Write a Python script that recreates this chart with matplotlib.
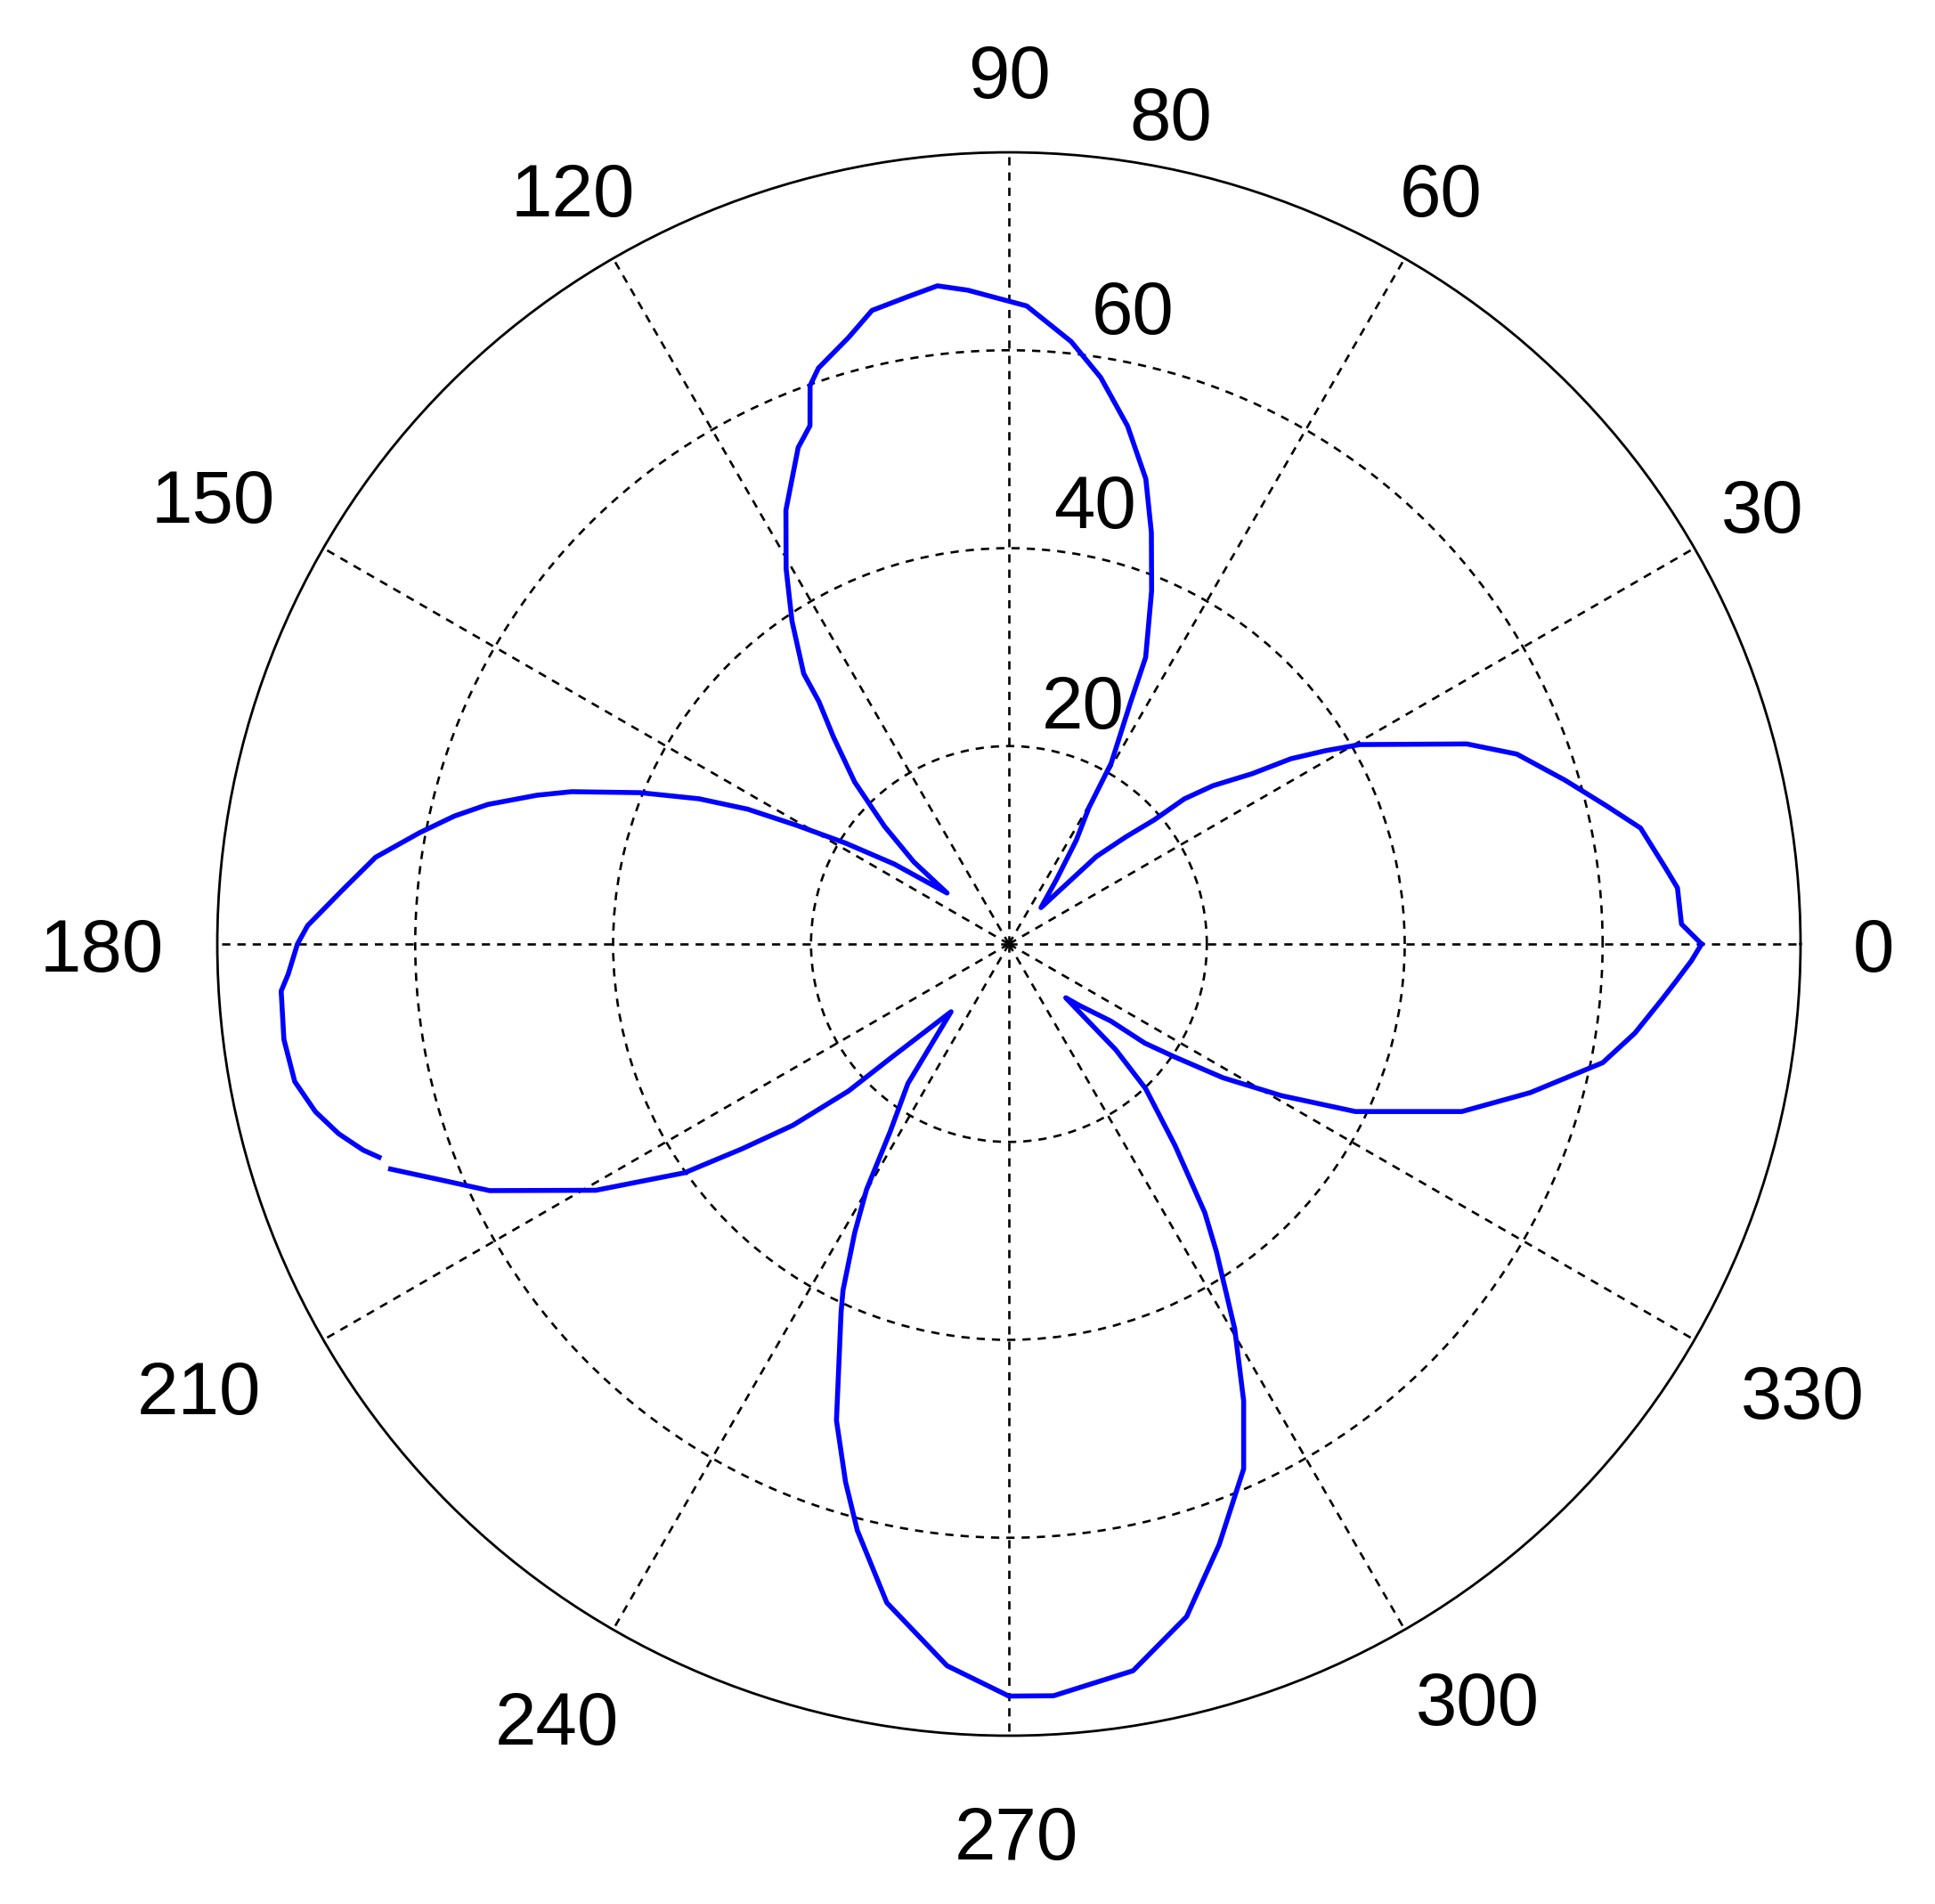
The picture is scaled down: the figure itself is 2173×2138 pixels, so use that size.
import numpy as np
import matplotlib
matplotlib.use("Agg")
import matplotlib.pyplot as plt

# pattern: angle in degrees, radius
theta_deg = [
    0.0, 1.7, 4.8, 6.6, 10.4, 13.0, 16.4, 20.5, 23.6, 29.6,
    31.4, 33.3, 35.0, 37.8, 39.6, 40.5, 42.5, 45.0, 48.6, 53.6,
    57.0, 59.6, 60.5, 63.3, 64.5, 68.0, 70.9, 73.6, 77.1, 80.8,
    84.1, 88.4, 93.6, 96.2, 98.9, 102.2, 104.8, 108.3, 109.6, 111.0,
    113.0, 117.2, 120.7, 123.9, 127.2, 128.1, 130.3, 133.6, 136.6, 139.2,
    140.5, 145.1, 148.3, 150.8, 152.7, 154.9, 157.7, 160.8, 162.5, 165.0,
    167.0, 169.3, 172.2, 175.4, 178.5, 180.0, 182.4, 183.7, 187.5, 190.9,
    193.6, 195.8, 197.7, 198.7, 199.3, 200.0, 202.4, 205.4, 210.8, 215.2,
    217.5, 220.0, 222.5, 224.0, 229.5, 234.1, 237.7, 239.9, 241.9, 244.4,
    245.5, 250.1, 253.1, 255.5, 259.5, 265.1, 270.0, 273.4, 279.7, 284.8,
    289.3, 294.1, 297.2, 300.4, 304.0, 306.1, 309.5, 313.4, 315.3, 315.8,
    316.6, 319.0, 322.9, 323.9, 325.7, 328.0, 330.9, 334.2, 339.7, 344.1,
    348.7, 351.9, 355.1, 356.9, 358.6, 360.0,
]
radius = [
    70.0, 68.0, 67.8, 66.8, 64.9, 62.0, 58.6, 54.8, 50.5, 40.8,
    37.5, 34.1, 30.0, 26.1, 23.0, 19.3, 16.0, 12.5, 4.9, 8.1,
    12.5, 16.0, 21.0, 27.4, 32.1, 38.5, 44.0, 49.0, 53.7, 58.0,
    61.2, 64.5, 66.2, 66.9, 66.2, 65.5, 63.4, 61.3, 59.9, 56.1,
    54.5, 49.3, 44.1, 39.3, 34.3, 31.1, 27.4, 22.6, 17.3, 12.7,
    8.1, 14.1, 19.4, 24.6, 29.7, 34.6, 40.3, 46.8, 50.0, 54.5,
    57.5, 60.6, 64.6, 67.6, 70.9, 71.9, 72.9, 73.7, 73.9, 73.5,
    72.1, 70.4, 68.5, 67.2, np.nan, 66.5, 62.4, 58.1, 48.6, 40.1,
    34.0, 28.5, 22.0, 16.5, 9.0, 17.4, 22.5, 28.7, 33.1, 38.8,
    40.9, 51.2, 56.8, 61.2, 67.7, 73.2, 76.0, 76.1, 74.5, 70.3,
    64.3, 58.1, 51.9, 45.1, 37.5, 33.6, 26.4, 20.1, 15.2, 11.0,
    7.9, 9.5, 12.9, 17.0, 20.2, 25.5, 31.5, 38.9, 48.8, 54.8,
    61.2, 63.9, 66.2, 67.6, 69.0, 70.0,
]

r_max = 80
ring_values = [20, 40, 60]
rlabel_values = [20, 40, 60, 80]
rlabel_angles = [73, 79, 79, 79]
spoke_angles = list(range(0, 360, 30))
spoke_labels = [str(a) for a in spoke_angles]
# where MATLAB put the angle labels (centre radius / angle)
spoke_label_r = [87.4, 88.1, 87.9, 88.2, 88.1, 92.3, 91.7, 93.3, 90.5, 89.8, 89.7, 92.1]
spoke_label_ang = [0, 30.2, 60.2, 90, 120, 150.6, 180, 208.7, 239.7, 270.5, 301.9, 330.6]

FONT = "Liberation Sans"
FS = 60
grid_style = (0, (3.5, 3))

fig = plt.figure(figsize=(21.73, 21.38), dpi=100)
ax = fig.add_axes([0.1123, 0.0884, 0.8182, 0.8316], projection="polar")

ax.plot(np.deg2rad(theta_deg), radius, color=(0, 0, 1), lw=4, zorder=3)

ax.set_ylim(0, r_max)
ax.set_rgrids(ring_values)
ax.set_thetagrids(spoke_angles)
ax.set_xticklabels([])
ax.set_yticklabels([])
ax.tick_params(length=0)
ax.grid(True, color="black", lw=1.9, linestyle=grid_style)
ax.spines["polar"].set_linewidth(2.0)
ax.spines["polar"].set_color("black")

# radial labels (MATLAB style, near the 80 degree spoke)
for val, ang in zip(rlabel_values, rlabel_angles):
    ax.text(np.deg2rad(ang), val + 5.6, str(val), ha="center",
            va="center_baseline", fontsize=FS, family=FONT)

# angle labels just outside the rim
for ang, rr, lab in zip(spoke_label_ang, spoke_label_r, spoke_labels):
    ax.text(np.deg2rad(ang), rr, lab, ha="center", va="center_baseline",
            fontsize=FS, family=FONT)

fig.savefig("out.png", dpi=100, facecolor="white")
